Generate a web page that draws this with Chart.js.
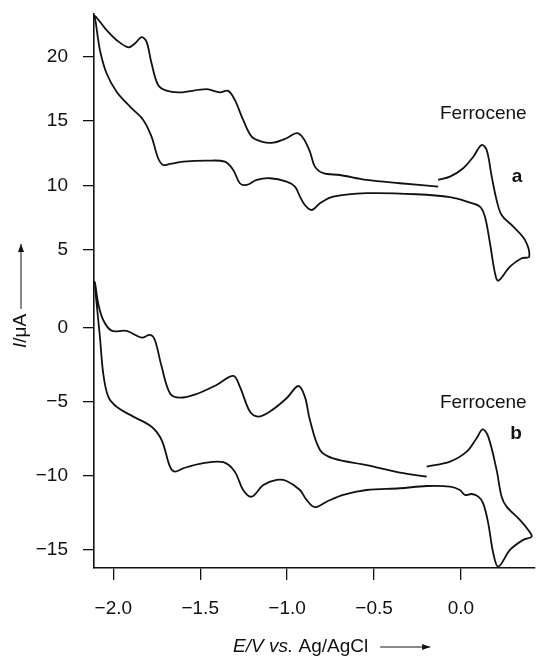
<!DOCTYPE html>
<html lang="en">

<head>
    <meta charset="UTF-8">
    <title>Cyclic voltammograms</title>
    <script src="https://cdn.jsdelivr.net/npm/chart.js"></script>
    <style>
        html, body { margin: 0; padding: 0; background: #ffffff; }
        #wrap { width: 537px; height: 659px; }
    </style>
</head>

<body>
    <div id="wrap"><canvas id="cv"></canvas></div>

    <script>
        // tick labels
        const potentialTicks = [-2.0, -1.5, -1.0, -0.5, 0.0];
        const upperTicks = [5, 10, 15, 20];
        const lowerTicks = [-15, -10, -5, 0];

        // curve a (E / V, I / uA)
        const curveAE = [-0.131, -0.063, 0.013, 0.071, 0.119, 0.148, 0.177, 0.205, 0.234, 0.301, 0.368, 0.393,
            0.349, 0.282, 0.215, 0.196, 0.167, 0.138, 0.109, 0.052, -0.063, -0.255, -0.543, -0.735, -0.811, -0.859,
            -0.898, -0.926, -0.955, -1.003, -1.099, -1.175, -1.233, -1.272, -1.310, -1.358, -1.463, -1.598, -1.674,
            -1.713, -1.742, -1.780, -1.828, -1.904, -1.981, -2.039, -2.077, -2.100, -2.106,
            -2.039, -1.982, -1.914, -1.876, -1.837, -1.809, -1.780, -1.742, -1.694, -1.617, -1.463, -1.387, -1.339,
            -1.301, -1.253, -1.204, -1.147, -1.080, -1.003, -0.945, -0.907, -0.869, -0.840, -0.792, -0.696, -0.543,
            -0.351, -0.131];
        const curveAI = [10.43, 10.68, 11.33, 12.23, 13.14, 12.75, 10.68, 8.88, 7.71, 6.81, 5.78, 4.48,
            4.36, 3.71, 2.62, 3.19, 5.52, 7.58, 8.36, 8.67, 9.09, 9.32, 9.40, 9.13, 8.62, 8.10,
            8.49, 9.13, 9.91, 10.30, 10.56, 10.43, 10.04, 10.17, 11.20, 11.84, 11.92, 11.84, 11.67,
            11.59, 12.11, 13.78, 15.08, 16.11, 17.27, 18.70, 20.50, 22.57, 23.14,
            22.05, 21.28, 20.71, 21.00, 21.49, 21.15, 19.47, 17.79, 17.35, 17.22, 17.46, 17.22, 17.33,
            16.63, 15.08, 13.78, 13.40, 13.32, 13.66, 14.05, 13.66, 12.62, 11.46, 10.95, 10.81, 10.43,
            10.17, 9.91];

        // curve b
        const curveBE = [-0.197, -0.063, 0.033, 0.090, 0.125, 0.157, 0.205, 0.234, 0.263, 0.339, 0.387, 0.407,
            0.358, 0.282, 0.215, 0.186, 0.157, 0.128, 0.100, 0.062, 0.023, -0.006, -0.063, -0.197, -0.351, -0.543,
            -0.677, -0.773, -0.840, -0.888, -0.926, -1.003, -1.060, -1.137, -1.204, -1.253, -1.301, -1.367, -1.482,
            -1.598, -1.646, -1.674, -1.722, -1.780, -1.885, -1.981, -2.029, -2.058, -2.077, -2.096, -2.106,
            -2.087, -2.058, -2.010, -1.924, -1.837, -1.789, -1.761, -1.722, -1.674, -1.617, -1.521, -1.406, -1.310,
            -1.272, -1.214, -1.166, -1.099, -1.003, -0.936, -0.898, -0.869, -0.811, -0.735, -0.543, -0.351, -0.197];
        const curveBI = [-9.37, -9.03, -8.36, -7.45, -6.85, -7.34, -9.59, -11.40, -12.07, -12.97, -13.65, -14.10,
            -14.32, -15.00, -16.13, -15.22, -13.20, -11.85, -11.40, -11.22, -11.28, -10.95, -10.72, -10.68, -10.83, -10.95,
            -11.28, -11.74, -12.11, -11.62, -10.95, -10.34, -10.27, -10.61, -11.40, -10.95, -9.71, -9.07, -9.14,
            -9.48, -9.71, -9.37, -7.57, -6.67, -5.99, -5.32, -4.64, -3.06, -0.59, 1.67, 3.13,
            1.67, 0.54, -0.18, -0.20, -0.65, -0.47, -0.81, -2.61, -4.41, -4.71, -4.46, -3.85, -3.24,
            -3.96, -5.65, -5.99, -5.65, -4.75, -3.92, -4.64, -6.22, -8.24, -8.81, -9.26, -9.77, -10.04];

        const FONT = '"Liberation Sans", Arial, Helvetica, sans-serif';
        const ink = '#111111';

        const toPoints = (xs, ys) => xs.map((x, i) => ({ x: x, y: ys[i] }));
        const minus = (s) => s.replace('-', '\u2212');

        function arrow(ctx, x1, y1, x2, y2) {
            const ang = Math.atan2(y2 - y1, x2 - x1);
            ctx.beginPath();
            ctx.moveTo(x1, y1);
            ctx.lineTo(x2, y2);
            ctx.stroke();
            ctx.beginPath();
            ctx.moveTo(x2, y2);
            ctx.lineTo(x2 - 8 * Math.cos(ang) + 3 * Math.sin(ang), y2 - 8 * Math.sin(ang) - 3 * Math.cos(ang));
            ctx.lineTo(x2 - 8 * Math.cos(ang) - 3 * Math.sin(ang), y2 - 8 * Math.sin(ang) + 3 * Math.cos(ang));
            ctx.closePath();
            ctx.fill();
        }

        // titles and labels drawn on top of the chart
        const labelsPlugin = {
            id: 'labels',
            afterDraw(chart) {
                const ctx = chart.ctx;
                ctx.save();
                ctx.fillStyle = ink;
                ctx.strokeStyle = ink;
                ctx.lineWidth = 1;
                ctx.textBaseline = 'middle';

                ctx.font = '19px ' + FONT;
                ctx.textAlign = 'left';
                ctx.fillText('Ferrocene', 440, 114);
                ctx.fillText('Ferrocene', 440, 403);
                ctx.font = 'bold 19px ' + FONT;
                ctx.textAlign = 'center';
                ctx.fillText('a', 517, 177);
                ctx.fillText('b', 516, 434);

                // x title
                let x = 233;
                const y = 647;
                ctx.textAlign = 'left';
                ctx.font = 'italic 19px ' + FONT;
                ctx.fillText('E/V vs.', x, y);
                x += ctx.measureText('E/V vs.').width;
                ctx.font = '19px ' + FONT;
                ctx.fillText(' Ag/AgCl', x, y);
                x += ctx.measureText(' Ag/AgCl').width;
                arrow(ctx, x + 12, y, x + 62, y);

                // y title
                ctx.save();
                ctx.translate(21, 331);
                ctx.rotate(-Math.PI / 2);
                ctx.font = 'italic 19px ' + FONT;
                const w1 = ctx.measureText('I').width;
                ctx.font = '19px ' + FONT;
                const w2 = ctx.measureText('/\u03bcA').width;
                let tx = -(w1 + w2) / 2;
                ctx.font = 'italic 19px ' + FONT;
                ctx.fillText('I', tx, 0);
                ctx.font = '19px ' + FONT;
                ctx.fillText('/\u03bcA', tx + w1, 0);
                arrow(ctx, (w1 + w2) / 2 + 5, 0, (w1 + w2) / 2 + 70, 0);
                ctx.restore();

                ctx.restore();
            }
        };

        const yScale = (ticksList, min, max, weight) => ({
            type: 'linear',
            position: 'left',
            stack: 'current',
            stackWeight: weight,
            min: min,
            max: max,
            afterFit: (scale) => {
                scale.width = 94;
                scale.paddingTop = 0;
                scale.paddingBottom = 0;
            },
            afterBuildTicks: (scale) => { scale.ticks = ticksList.map(v => ({ value: v })); },
            grid: { drawOnChartArea: false, drawTicks: true, tickLength: 11, color: ink, lineWidth: 1.3 },
            border: { display: true, color: ink, width: 1.6 },
            ticks: {
                color: ink,
                padding: 15,
                font: { family: FONT, size: 19 },
                callback: (v) => minus(String(v))
            }
        });

        new Chart(document.getElementById('cv'), {
            type: 'scatter',
            data: {
                datasets: [{
                    label: 'a',
                    data: toPoints(curveAE, curveAI),
                    yAxisID: 'yUpper',
                    showLine: true,
                    borderColor: ink,
                    borderWidth: 1.8,
                    pointRadius: 0,
                    tension: 0.35,
                    clip: false
                }, {
                    label: 'b',
                    data: toPoints(curveBE, curveBI),
                    yAxisID: 'yLower',
                    showLine: true,
                    borderColor: ink,
                    borderWidth: 1.8,
                    pointRadius: 0,
                    tension: 0.35,
                    clip: false
                }]
            },
            options: {
                responsive: true,
                maintainAspectRatio: false,
                animation: false,
                layout: { padding: { left: 0, right: 2, top: 14, bottom: 0 } },
                plugins: {
                    legend: { display: false },
                    tooltip: { enabled: false }
                },
                scales: {
                    x: {
                        type: 'linear',
                        min: -2.111,
                        max: 0.426,
                        afterFit: (scale) => { scale.height = 91; },
                        afterBuildTicks: (scale) => { scale.ticks = potentialTicks.map(v => ({ value: v })); },
                        grid: { drawOnChartArea: false, drawTicks: true, tickLength: 12, color: ink, lineWidth: 1.3 },
                        border: { display: true, color: ink, width: 1.6 },
                        ticks: {
                            color: ink,
                            padding: 17,
                            maxRotation: 0,
                            font: { family: FONT, size: 19 },
                            callback: (v) => minus(v.toFixed(1))
                        }
                    },
                    // stacked left axes: listed bottom first, the last one ends up on top
                    yLower: yScale(lowerTicks, -16.22, 3.04, 285),
                    yUpper: yScale(upperTicks, 2.44, 23.29, 269)
                }
            },
            plugins: [labelsPlugin]
        });
    </script>
</body>

</html>
